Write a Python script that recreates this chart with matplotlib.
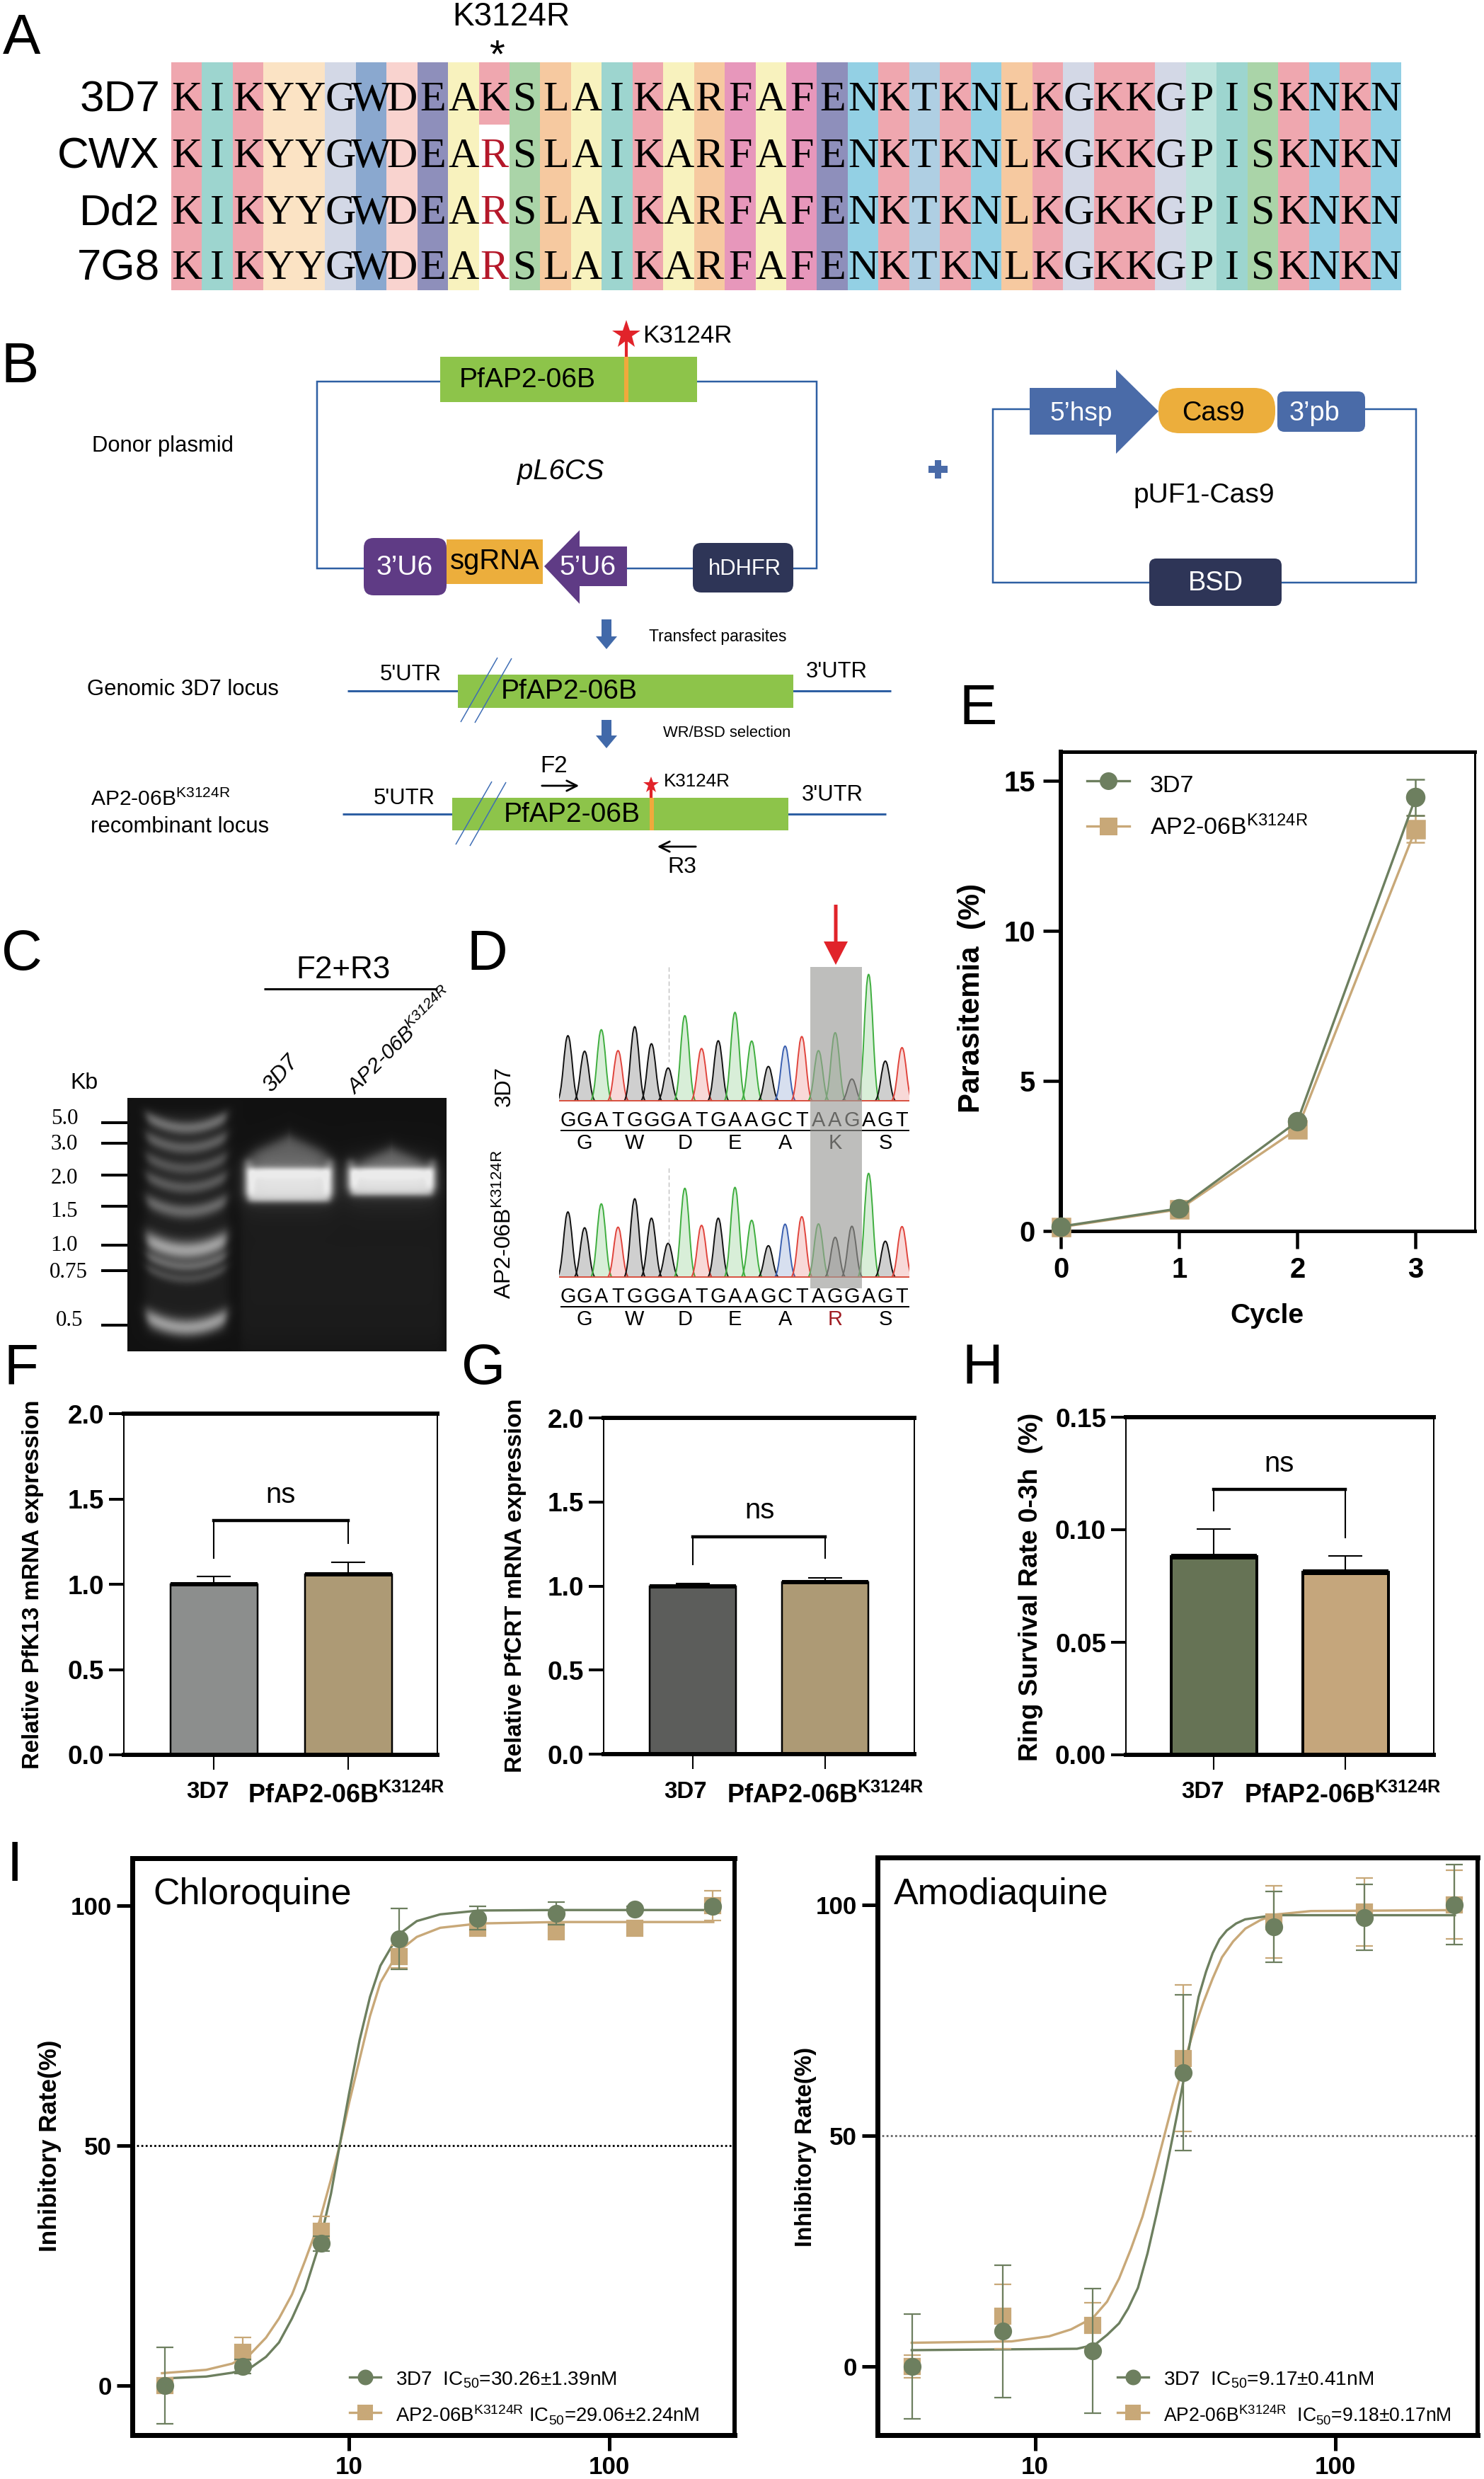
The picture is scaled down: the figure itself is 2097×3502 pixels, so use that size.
#!/usr/bin/env python3
"""Multi-panel figure: alignment, constructs, gel, traces, growth, bars, dose curves."""
import numpy as np
import matplotlib
matplotlib.use("Agg")
import matplotlib.pyplot as plt
from matplotlib.patches import FancyBboxPatch, PathPatch, Polygon, Rectangle
from matplotlib.path import Path
from matplotlib.ticker import NullLocator

plt.rcParams["font.family"] = ["Liberation Sans", "DejaVu Sans"]
plt.rcParams["mathtext.default"] = "regular"

W, H = 2097, 3502
GREEN, TAN = "#6D7F5F", "#C8A878"
DARK_TAN = "#AD9A75"
NAVY, PURPLE, AMBER, LEAF = "#2E3557", "#5F3B85", "#ECAE3C", "#8DC44A"
WIRE, STEEL, RED = "#2E5FA3", "#4A6BA8", "#E1232A"

# A: alignment
STRAINS = ["3D7", "CWX", "Dd2", "7G8"]
SEQ_WT = "KIKYYGWDEAKSLAIKARFAFENKTKNLKGKKGPISKNKN"
SEQ_MUT = "KIKYYGWDEARSLAIKARFAFENKTKNLKGKKGPISKNKN"
RES_COL = {"K": "#EFA7AF", "I": "#9DD5CF", "Y": "#FBE3C4", "G": "#D3D8E6", "W": "#8AA8CF",
           "D": "#F9D3CF", "E": "#8E8FBB", "A": "#F8F2BE", "S": "#AAD4A8", "L": "#F6C9A0",
           "R": "#F6C9A0", "F": "#E797BB", "N": "#93D0E4", "T": "#AFCFE3", "P": "#BCE3DC"}

# C: gel ladder
KB_LABELS = ["5.0", "3.0", "2.0", "1.5", "1.0", "0.75", "0.5"]
KB_TICK_Y = [1586, 1615, 1660, 1704, 1759, 1795, 1872]
KB_TEXT_Y = [1580, 1616, 1664, 1711, 1759, 1797, 1865]
KB_TEXT_X = [91, 91, 91, 91, 91, 97, 98]

# D: chromatogram peaks (base call colour, peak height)
BASES_WT = "GGATGGGATGAAGCTAAGAGT"
BASES_MUT = "GGATGGGATGAAGCTAGGAGT"
AA_WT = ["G", "W", "D", "E", "A", "K", "S"]
AA_MUT = ["G", "W", "D", "E", "A", "R", "S"]
PEAKS_WT = [220, 168, 240, 170, 250, 193, 112, 287, 177, 203, 298, 202, 117, 185, 217, 170, 230, 75, 425, 135, 180]
PEAKS_MUT = [220, 167, 247, 169, 264, 199, 115, 299, 175, 199, 302, 192, 107, 179, 204, 180, 135, 172, 349, 122, 171]
BASE_COL = {"A": "#3FAE3F", "T": "#E0443C", "G": "#111111", "C": "#3A5FB0"}

# E: growth
CYCLES = [0, 1, 2, 3]
PARA_3D7 = [0.15, 0.75, 3.65, 14.45]
PARA_3D7_ERR = [0.05, 0.08, 0.1, 0.6]
PARA_MUT = [0.13, 0.72, 3.4, 13.4]
PARA_MUT_ERR = [0.05, 0.08, 0.1, 0.45]

# F, G, H: bars
K13_VALS, K13_ERR = [1.0, 1.06], [0.045, 0.07]
CRT_VALS, CRT_ERR = [1.0, 1.025], [0.015, 0.025]
RSA_VALS, RSA_ERR = [0.088, 0.081], [0.0123, 0.0073]

# I: dose response, concentration in nM (log10 stored for the fitted curves)
CQ_DOSE = [1.95, 3.9, 7.8, 15.6, 31.25, 62.5, 125, 250]
CQ_3D7 = [0, 4, 29.6, 93.1, 97.4, 98.4, 99.3, 99.8]
CQ_3D7_ERR = [8, 1.5, 1.5, 6.3, 2.4, 2.3, 0.5, 0.5]
CQ_MUT = [0, 6.9, 32.2, 89.4, 95.3, 94.6, 95.3, 100]
CQ_MUT_ERR = [1.5, 3.2, 3, 2.4, 1, 1, 1, 3.1]
CQ_LOGX = [0.28, 0.45, 0.55, 0.62, 0.68, 0.73, 0.78, 0.83, 0.886, 0.93, 0.963, 1.0, 1.04, 1.08,
           1.12, 1.19, 1.26, 1.35, 1.5, 1.8, 2.4]
CQ_FIT_3D7 = [1.5, 1.9, 2.7, 3.7, 6, 9, 14, 20, 29.6, 40, 50, 61, 72, 81, 87.5, 94, 96.8, 98.2, 99, 99.1, 99.1]
CQ_FIT_MUT = [2.6, 3.3, 4.6, 6.6, 10, 14, 19, 26, 34.3, 43, 50, 59, 68, 77, 84, 90.5, 93.5, 95.4, 96.3, 96.6, 96.6]

AQ_DOSE = [3.9, 7.8, 15.6, 31.25, 62.5, 125, 250]
AQ_3D7 = [0, 7.6, 3.4, 63.6, 95.2, 97.2, 100]
AQ_3D7_ERR = [11.3, 14.3, 13.5, 16.8, 7.7, 7.1, 8.6]
AQ_MUT = [0, 10.8, 8.9, 66.7, 96.2, 98.4, 100]
AQ_MUT_ERR = [2.5, 7, 4.9, 15.9, 7.8, 7.3, 7.5]
AQ_LOGX_3D7 = [0.589, 1.14, 1.2, 1.24, 1.28, 1.31, 1.343, 1.375, 1.405, 1.43, 1.452, 1.475, 1.495,
               1.52, 1.545, 1.57, 1.592, 1.615, 1.639, 1.67, 1.70, 1.796, 2.399]
AQ_FIT_3D7 = [3.5, 3.8, 4.7, 6.8, 9.3, 12.5, 17, 24.5, 33, 40.5, 47.5, 55, 62, 71.5, 80, 85.5, 89.5, 92.5,
              94.4, 95.9, 96.8, 97.7, 97.7]
AQ_LOGX_MUT = [0.589, 0.922, 1.047, 1.12, 1.193, 1.24, 1.28, 1.32, 1.358, 1.395, 1.431, 1.465, 1.495,
               1.53, 1.561, 1.592, 1.623, 1.66, 1.701, 1.75, 1.796, 1.919, 2.399]
AQ_FIT_MUT = [5.1, 5.4, 6.5, 8, 10.5, 14, 19, 25.5, 32.4, 41, 50, 58.5, 65.4, 73, 78.8, 84, 88.6, 92, 94.8,
              96.6, 97.8, 98.6, 98.8]


def fs(px):
    return px * 0.72


def px_axes(fig, left, top, right, bottom, **kw):
    return fig.add_axes([left / W, 1 - bottom / H, (right - left) / W, (bottom - top) / H], **kw)


fig = plt.figure(figsize=(W / 100, H / 100), dpi=100)
fig.patch.set_facecolor("white")

ov = fig.add_axes([0, 0, 1, 1], zorder=5)
ov.set_xlim(0, W)
ov.set_ylim(H, 0)
ov.axis("off")
ov.patch.set_alpha(0)


def label(x, y, s, px=31, ha="center", va="center", **kw):
    return ov.text(x, y, s, fontsize=fs(px), ha=ha, va=va, **kw)


def box(x0, y0, x1, y1, color, rounding=0):
    style = f"round,pad=0,rounding_size={rounding}" if rounding else "square,pad=0"
    ov.add_patch(FancyBboxPatch((x0, y0), x1 - x0, y1 - y0, boxstyle=style, fc=color, ec="none", zorder=2.5))


def wire(xs, ys, color=WIRE, lw=2.5, **kw):
    ov.plot(xs, ys, color=color, lw=lw * 0.72, solid_capstyle="butt", solid_joinstyle="miter", **kw)


for s, x, y in [("A", 4, 56), ("B", 2, 519), ("C", 2, 1349), ("D", 660, 1349), ("E", 1356, 1002),
                ("F", 6, 1934), ("G", 652, 1934), ("H", 1360, 1934), ("I", 10, 2636)]:
    label(x, y, s, px=80, ha="left")

# --- A ---
CELL_TOP = [88, 176, 256, 336]
CELL_BOT = [176, 256, 336, 410]
ROW_MID = [142, 222, 302, 380]
COL0, COLW = 242, 43.45
for r, strain in enumerate(STRAINS):
    seq = SEQ_WT if r == 0 else SEQ_MUT
    label(226, ROW_MID[r], strain, px=62, ha="right")
    for c, aa in enumerate(seq):
        mutant = r > 0 and c == 10
        if not mutant:
            ov.add_patch(Rectangle((COL0 + c * COLW, CELL_TOP[r]), COLW, CELL_BOT[r] - CELL_TOP[r],
                                   fc=RES_COL[aa], ec="none"))
        label(COL0 + (c + 0.5) * COLW, ROW_MID[r], aa, px=60, family="Liberation Serif",
              color="#B5182A" if mutant else "black", zorder=4)
label(722, 24, "K3124R", px=46)
label(702, 80, "*", px=56)

# --- B, donor plasmid ---
wire([622, 448, 448, 514], [539, 539, 803, 803])
wire([985, 1154, 1154, 1121], [539, 539, 803, 803])
wire([886, 979], [803, 803])
box(622, 504, 985, 568, LEAF)
ov.plot([885, 885], [473, 504], color=RED, lw=3)
ov.add_patch(Rectangle((882, 504), 6, 64, fc="#F0A93C", ec="none", zorder=2.6))
ov.plot([885], [473], marker="*", color=RED, ms=fs(42), mew=0)
label(908, 475, "K3124R", px=35, ha="left")
label(745, 537, "PfAP2-06B", px=39)
label(130, 630, "Donor plasmid", ha="left")
label(792, 666, "pL6CS", px=40, style="italic")
box(514, 760, 631, 841, PURPLE, rounding=14)
box(631, 762, 767, 825, AMBER)
ov.add_patch(Polygon([(769, 800), (819, 749), (819, 772), (886, 772), (886, 828), (819, 828), (819, 853)],
                     fc=PURPLE, ec="none", zorder=2.5))
label(572, 802, "3’U6", px=39, color="white")
label(699, 793, "sgRNA", px=40)
label(831, 802, "5’U6", px=39, color="white")
box(979, 767, 1121, 837, NAVY, rounding=12)
label(1052, 804, "hDHFR", color="white")


def down_arrow(x, y0, y1):
    ov.add_patch(Polygon([(x - 7, y0), (x + 7, y0), (x + 7, y1 - 18), (x + 15, y1 - 18), (x, y1),
                          (x - 15, y1 - 18), (x - 7, y1 - 18)], fc="#4169A9", ec="none"))


down_arrow(857, 875, 917)
label(917, 899, "Transfect parasites", px=23, ha="left")
down_arrow(857, 1017, 1057)
label(937, 1035, "WR/BSD selection", px=22, ha="left")

# --- B, loci ---
label(123, 974, "Genomic 3D7 locus", ha="left")
wire([491, 1259], [976, 976], lw=3)
box(647, 953, 1121, 1000, LEAF)
label(580, 953, "5'UTR")
label(1182, 949, "3'UTR")
label(804, 977, "PfAP2-06B", px=39)
wire([703, 651], [929, 1020], color="#3E6DB5", lw=1.5, zorder=2.7)
wire([723, 671], [930, 1021], color="#3E6DB5", lw=1.5, zorder=2.7)

label(128, 1129, "AP2-06B$^{K3124R}$", px=30, ha="left")
label(128, 1168, "recombinant locus", ha="left")
wire([484, 1252], [1150, 1150], lw=3)
box(639, 1127, 1114, 1173, LEAF)
ov.add_patch(Rectangle((918, 1127), 6, 46, fc="#F0A93C", ec="none", zorder=2.6))
ov.plot([920, 920], [1111, 1127], color=RED, lw=3)
ov.plot([920], [1109], marker="*", color=RED, ms=fs(24), mew=0)
label(938, 1104, "K3124R", px=26, ha="left")
label(571, 1128, "5'UTR")
label(1176, 1123, "3'UTR")
label(808, 1151, "PfAP2-06B", px=39)
wire([695, 644], [1104, 1193], color="#3E6DB5", lw=1.5, zorder=2.7)
wire([715, 664], [1105, 1195], color="#3E6DB5", lw=1.5, zorder=2.7)
label(782, 1082, "F2", px=33)
label(964, 1225, "R3", px=32)
ov.annotate("", xy=(821, 1110), xytext=(763, 1110), arrowprops=dict(arrowstyle="->", lw=2, color="black", mutation_scale=26))
ov.annotate("", xy=(926, 1196), xytext=(986, 1196), arrowprops=dict(arrowstyle="->", lw=2, color="black", mutation_scale=26))

# --- B, pUF1-Cas9 ---
wire([1455, 1403, 1403, 1624], [578, 578, 823, 823])
wire([1929, 2001, 2001, 1811], [578, 578, 823, 823])
ov.add_patch(Polygon([(1455, 548), (1577, 548), (1577, 522), (1637, 581), (1577, 641), (1577, 614), (1455, 614)],
                     fc=STEEL, ec="none", zorder=2.5))
box(1637, 548, 1802, 612, AMBER, rounding=30)
box(1805, 553, 1929, 610, STEEL, rounding=10)
box(1624, 789, 1811, 856, NAVY, rounding=10)
label(1528, 584, "5’hsp", px=37, color="white")
label(1714, 584, "Cas9", px=38)
label(1857, 584, "3’pb", px=38, color="white")
label(1701, 700, "pUF1-Cas9", px=39)
label(1718, 824, "BSD", px=38, color="white")
ov.add_patch(Rectangle((1312, 658), 27, 10, fc=STEEL, ec="none"))
ov.add_patch(Rectangle((1321, 650), 9, 26, fc=STEEL, ec="none"))

# --- C, gel picture ---
gel_ax = px_axes(fig, 180, 1551, 631, 1909, zorder=1)
yy, xx = np.mgrid[1551:1909, 180:631].astype(float)


def soft(v, a, b, s):
    return 0.5 * (np.tanh((v - a) / s) - np.tanh((v - b) / s))


gel = np.full(xx.shape, 0.07)
gel += 0.05 * soft(xx, 205, 322, 8) * soft(yy, 1570, 1885, 8)
gel += 0.04 * soft(xx, 340, 625, 6) * soft(yy, 1700, 1905, 30)
for by, amp, thick in [(1585, 0.3, 10), (1613, 0.24, 10), (1642, 0.2, 10), (1669, 0.22, 10), (1703, 0.28, 11),
                       (1758, 0.5, 14), (1781, 0.24, 8), (1798, 0.16, 8), (1867, 0.48, 13)]:
    smile = by - 16 * ((xx - 263) / 56) ** 2 + 8
    gel += amp * soft(xx, 207, 319, 7) * np.exp(-((yy - smile) / thick) ** 2)
for cx, hw, y0, y1, amp, halo in [(408, 64, 1650, 1697, 0.66, 1604), (553, 64, 1650, 1688, 0.66, 1621)]:
    gel += amp * soft(xx, cx - hw + 6, cx + hw - 6, 6) * soft(yy, y0, y1, 5)
    gel += 0.14 * np.exp(-((xx - cx) / (hw + 6)) ** 6) * np.exp(-((yy - (y0 + y1) / 2) / 34) ** 2)
    wedge = soft(xx, cx - hw + 8, cx + hw - 8, 12) * soft(yy, halo + 0.45 * np.abs(xx - cx), y0 + 6, 10)
    gel += 0.3 * wedge
    for edge in (cx - hw + 6, cx + hw - 6):
        gel += 0.25 * np.exp(-((xx - edge) / 8) ** 2) * soft(yy, y0 - 12, y1 - 8, 6)
gel_ax.imshow(np.clip(gel, 0, 0.92), cmap="gray", vmin=0, vmax=1, aspect="auto")
gel_ax.axis("off")
for ty, tx, lab, tex in zip(KB_TICK_Y, KB_TEXT_X, KB_LABELS, KB_TEXT_Y):
    wire([143, 180], [ty, ty], color="black", lw=4)
    label(tx, tex, lab, family="Liberation Serif")
label(119, 1530, "Kb", px=32)
label(485, 1370, "F2+R3", px=44)
wire([373, 618], [1397, 1397], color="black", lw=3)
label(388, 1549, "3D7", px=32, style="italic", rotation=48, ha="left", va="bottom", rotation_mode="anchor")
label(506, 1552, "AP2-06B$^{K3124R}$", px=30, style="italic", rotation=45, ha="left", va="bottom",
      rotation_mode="anchor")


# --- D, traces ---
def trace(ax, heights, bases):
    for i, (h, b) in enumerate(zip(heights, bases)):
        w = 0.68
        verts = [(i - w, 0), (i - 0.45 * w, 0), (i - 0.35 * w, h), (i, h),
                 (i + 0.35 * w, h), (i + 0.45 * w, 0), (i + w, 0)]
        codes = [Path.MOVETO] + [Path.CURVE4] * 6
        ax.add_patch(PathPatch(Path(verts, codes), fc=BASE_COL[b], ec="none", alpha=0.2))
        ax.add_patch(PathPatch(Path(verts, codes), fc="none", ec=BASE_COL[b], lw=1.4))
    ax.axhline(2, color="#D9503F", lw=1.4)
    ax.set_xlim(-0.53, 20.44)
    ax.axis("off")


top_ax = px_axes(fig, 790, 1366, 1285, 1556, zorder=1)
trace(top_ax, PEAKS_WT, BASES_WT)
top_ax.set_ylim(0, 450)
bot_ax = px_axes(fig, 790, 1650, 1285, 1805, zorder=1)
trace(bot_ax, PEAKS_MUT, BASES_MUT)
bot_ax.set_ylim(0, 367)

for seq, aas, y_seq, y_line, y_aa in [(BASES_WT, AA_WT, 1583, 1597, 1615), (BASES_MUT, AA_MUT, 1832, 1846, 1864)]:
    for i, b in enumerate(seq):
        label(802.5 + 23.6 * i, y_seq, b, px=29)
    wire([792, 1285], [y_line, y_line], color="black", lw=2)
    for k, aa in enumerate(aas):
        label(802.5 + 23.6 * (1 + 3 * k), y_aa, aa, px=29, color="#A01C22" if aa == "R" else "black")
for y0, y1 in [(1366, 1500), (1650, 1760)]:
    ov.plot([945, 945], [y0, y1], color="#BBBBBB", lw=0.9, ls=(0, (5, 3)))
ov.add_patch(Rectangle((1145, 1366), 73, 454, fc="#9C9C98", ec="none", alpha=0.65, zorder=3))
label(713, 1535, "3D7", px=31, rotation=90)
label(713, 1730, "AP2-06B$^{K3124R}$", px=32, rotation=90)
ov.add_patch(Polygon([(1178.5, 1278), (1183.5, 1278), (1183.5, 1330), (1198, 1330), (1181, 1363), (1164, 1330),
                      (1178.5, 1330)], fc=RED, ec="none", zorder=4))


def style_axes(ax, widths, tick_w=4, tick_l=21):
    for side, w in widths.items():
        ax.spines[side].set_linewidth(w * 0.72)
    ax.tick_params(axis="both", width=tick_w * 0.72, length=tick_l * 0.72)


# --- E ---
ax = px_axes(fig, 1499, 1062, 2084, 1739)
ax.errorbar(CYCLES, PARA_MUT, yerr=PARA_MUT_ERR, color=TAN, marker="s", ms=fs(25), mew=1.8, lw=2.4, capsize=9.4,
            elinewidth=1.8, clip_on=False, zorder=3)
ax.errorbar(CYCLES, PARA_3D7, yerr=PARA_3D7_ERR, color=GREEN, marker="o", ms=fs(25), mew=1.8, lw=2.4, capsize=9.4,
            elinewidth=1.8, clip_on=False, zorder=4)
ax.set_xlim(0, 3.5)
ax.set_ylim(0, 15.97)
ax.set_xticks(CYCLES)
ax.set_yticks([0, 5, 10, 15])
style_axes(ax, {"left": 6, "top": 5, "right": 3, "bottom": 5}, tick_w=4.5, tick_l=25)
ax.tick_params(labelsize=fs(40), pad=8)
for t in ax.get_xticklabels() + ax.get_yticklabels():
    t.set_fontweight("bold")
label(1373, 1410, "Parasitemia  (%)", px=42, rotation=90, weight="bold")
label(1790, 1859, "Cycle", px=39, weight="bold")
for y_key, y_text, col, mk, s in [(1103, 1110, GREEN, "o", "3D7"), (1167, 1169, TAN, "s", "AP2-06B$^{K3124R}$")]:
    ov.plot([1536, 1596], [y_key, y_key], color=col, lw=2.4)
    ov.plot([1566], [y_key], marker=mk, color=col, ms=fs(25), mew=0)
    label(1625, y_text, s, px=34, ha="left")


# --- F, G, H ---
def bar_panel(box_px, centers_px, width_px, vals, errs, colors, yticks, fmt, ymax, bracket, ns_xy, edge=2.5, top_w=6):
    left, top, right, bottom = box_px
    unit = centers_px[1] - centers_px[0]
    ax = px_axes(fig, left, top, right, bottom)
    x = [0, 1]
    ax.bar(x, vals, width=width_px / unit, color=colors, edgecolor="black", linewidth=edge * 0.72, zorder=2)
    ax.errorbar(x, vals, yerr=[[0, 0], errs], fmt="none", ecolor="black", elinewidth=1.5, capsize=17, capthick=1.5,
                zorder=1)
    for xi, v in zip(x, vals):
        ax.plot([xi - width_px / unit / 2, xi + width_px / unit / 2], [v, v], color="black", lw=top_w * 0.72,
                solid_capstyle="butt", zorder=3)
    top_y, y_l, y_r = bracket
    ax.plot([0, 0, 1, 1], [y_l, top_y, top_y, y_r], color="black", lw=1.5, zorder=3)
    ax.plot([0, 1], [top_y, top_y], color="black", lw=3.2, zorder=3)
    ax.set_xlim((left - centers_px[0]) / unit, (right - centers_px[0]) / unit)
    ax.set_ylim(0, ymax)
    ax.set_yticks(yticks)
    ax.set_yticklabels([fmt % v for v in yticks], fontsize=fs(37), fontweight="bold")
    ax.set_xticks(x)
    ax.set_xticklabels([])
    style_axes(ax, {"left": 2, "right": 2, "top": 6, "bottom": 6})
    ax.tick_params(axis="x", width=1.5)
    ax.tick_params(axis="y", pad=5)
    label(*ns_xy, "ns", px=40)


bar_panel((175, 1997, 618, 2479), (302, 492), 123, K13_VALS, K13_ERR, ["#8C8E8D", DARK_TAN], [0, 0.5, 1.0, 1.5, 2.0],
          "%.1f", 2.0, (1.372, 1.153, 1.239), (397, 2112))
bar_panel((853, 2003, 1292, 2478), (979, 1166), 122, CRT_VALS, CRT_ERR, ["#5C5D5B", DARK_TAN], [0, 0.5, 1.0, 1.5, 2.0],
          "%.1f", 2.0, (1.294, 1.127, 1.165), (1074, 2134))
bar_panel((1591, 2002, 2026, 2479), (1715, 1901), 121, RSA_VALS, RSA_ERR, ["#667355", "#C5A67C"],
          [0, 0.05, 0.10, 0.15], "%.2f", 0.15, (0.118, 0.1085, 0.0965), (1808, 2068), edge=4, top_w=8)
label(47, 2238, "Relative PfK13 mRNA expression", px=33, rotation=90, weight="bold")
label(729, 2240, "Relative PfCRT mRNA expression", px=33, rotation=90, weight="bold")
label(1457, 2242, "Ring Survival Rate 0-3h  (%)", px=37, rotation=90, weight="bold")
for x3d7, xmut in [(294, 350), (969, 1027), (1700, 1758)]:
    label(x3d7, 2531, "3D7", px=33, weight="bold")
    label(xmut, 2537, "PfAP2-06B$^{K3124R}$", px=36, ha="left", weight="bold")


# --- I ---
def dose_panel(box_px, xlim, ylim, dose, y1, e1, y2, e2, fit1, fit2, dotted, title, title_xy):
    left, top, right, bottom = box_px
    ax = px_axes(fig, left, top, right, bottom)
    ax.set_xscale("log")
    ax.axhline(50, color=dotted, lw=2, ls=(0, (1, 1.2)), zorder=1)
    ax.plot(10 ** np.array(fit2[0]), fit2[1], color=TAN, lw=2.4, zorder=2)
    ax.plot(10 ** np.array(fit1[0]), fit1[1], color=GREEN, lw=2.4, zorder=2)
    ax.errorbar(dose, y2, yerr=e2, fmt="s", color=TAN, ms=fs(22), mew=1.6, elinewidth=1.6, capsize=8.6, zorder=3)
    ax.errorbar(dose, y1, yerr=e1, fmt="o", color=GREEN, ms=fs(23), mew=1.6, elinewidth=1.6, capsize=8.6, zorder=4)
    ax.set_xlim(*xlim)
    ax.set_ylim(*ylim)
    ax.set_xticks([10, 100])
    ax.set_xticklabels(["10", "100"], fontsize=fs(35), fontweight="bold")
    ax.xaxis.set_minor_locator(NullLocator())
    ax.set_yticks([0, 50, 100])
    ax.set_yticklabels(["0", "50", "100"], fontsize=fs(35), fontweight="bold")
    style_axes(ax, {"left": 7, "top": 7, "right": 6, "bottom": 7}, tick_w=5, tick_l=22)
    ax.tick_params(pad=5)
    label(*title_xy, title, px=52, ha="left")


dose_panel((187, 2625, 1038, 3440), (10 ** 0.166, 10 ** 2.482), (-10.3, 109.9), CQ_DOSE, CQ_3D7, CQ_3D7_ERR, CQ_MUT,
           CQ_MUT_ERR, (CQ_LOGX, CQ_FIT_3D7), (CQ_LOGX, CQ_FIT_MUT), "black", "Chloroquine", (216, 2676))
dose_panel((1240, 2624, 2088, 3440), (10 ** 0.475, 10 ** 2.475), (-14.9, 110.2), AQ_DOSE, AQ_3D7, AQ_3D7_ERR, AQ_MUT,
           AQ_MUT_ERR, (AQ_LOGX_3D7, AQ_FIT_3D7), (AQ_LOGX_MUT, AQ_FIT_MUT), "#666666", "Amodiaquine", (1263, 2676))
label(71, 3031, "Inhibitory Rate(%)", px=35, rotation=90, weight="bold")
label(1139, 3033, "Inhibitory Rate(%)", px=33, rotation=90, weight="bold")
LEGEND_I = [(516, 559, "3D7  IC$_{50}$=30.26±1.39nM", "AP2-06B$^{K3124R}$ IC$_{50}$=29.06±2.24nM", 28, 27.5),
            (1601, 1644, "3D7  IC$_{50}$=9.17±0.41nM", "AP2-06B$^{K3124R}$  IC$_{50}$=9.18±0.17nM", 28, 26.5)]
for x_key, x_text, s1, s2, px1, px2 in LEGEND_I:
    for y_key, col, mk, s, px in [(3358, GREEN, "o", s1, px1), (3408, TAN, "s", s2, px2)]:
        ov.plot([x_key - 22, x_key + 22], [y_key, y_key], color=col, lw=2.4)
        ov.plot([x_key], [y_key], marker=mk, color=col, ms=fs(22), mew=0)
        label(x_text, y_key + 4, s, px=px, ha="left")

ov.set_xlim(0, W)
ov.set_ylim(H, 0)
fig.savefig("out.png", dpi=100, facecolor="white")
